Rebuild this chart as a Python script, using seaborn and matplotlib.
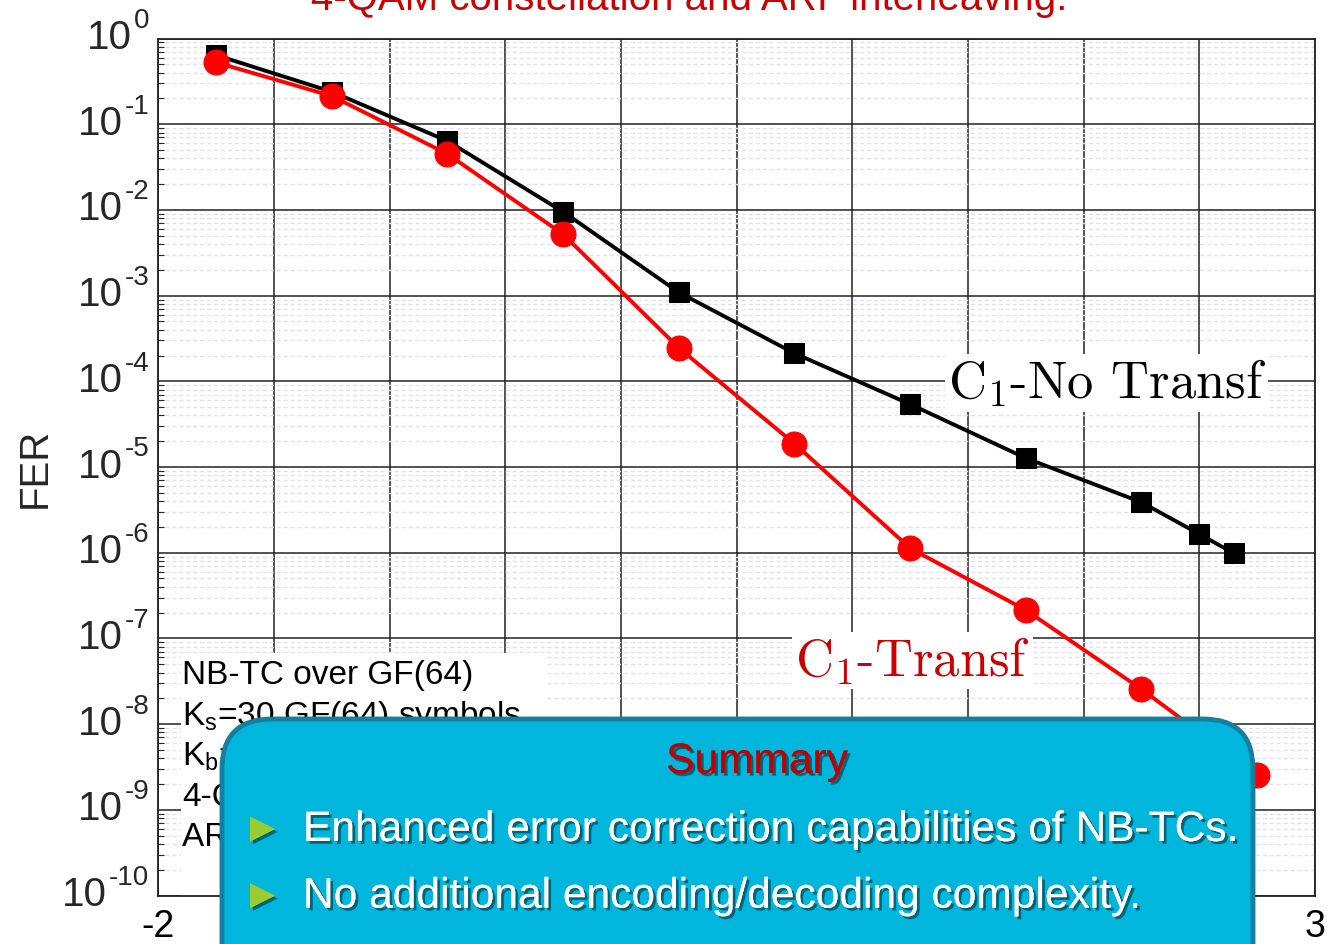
import numpy as np
import pandas as pd
import matplotlib
matplotlib.use("Agg")
import matplotlib.pyplot as plt
import matplotlib.ticker as mticker
import matplotlib.patheffects as pe
import matplotlib.transforms as mtransforms
from matplotlib.patches import FancyBboxPatch, Rectangle
import seaborn as sns

# ---------------- data ----------------
snr_no_transf = [-1.75, -1.25, -0.75, -0.25, 0.25, 0.75, 1.25, 1.75, 2.25, 2.5, 2.65]
fer_no_transf = [0.64, 0.239, 0.0637, 9.5e-3, 1.09e-3, 2.12e-4, 5.4e-5, 1.27e-5, 3.87e-6, 1.65e-6, 9.8e-7]
snr_transf = [-1.75, -1.25, -0.75, -0.25, 0.25, 0.75, 1.25, 1.75, 2.25, 2.75]
fer_transf = [0.527, 0.213, 0.0449, 5.2e-3, 2.45e-4, 1.87e-5, 1.125e-6, 2.14e-7, 2.55e-8, 2.55e-9]
series_labels = ["C$_1$-No Transf", "C$_1$-Transf"]
y_exponents = [0, -1, -2, -3, -4, -5, -6, -7, -8, -9, -10]
x_tick_values = [-2, -1.5, -1, -0.5, 0, 0.5, 1, 1.5, 2, 2.5, 3]
x_tick_labels = ["-2", "", "", "", "", "", "", "", "", "", "3"]
y_label = "FER"
title_text = "4-QAM constellation and ARI  interleaving."
info_lines = ["NB-TC over GF(64)", "K$_\\mathregular{s}$=30 GF(64) symbols",
              "K$_\\mathregular{b}$=180 bits", "4-QAM", "ARI interleaving"]
summary_title = "Summary"
summary_points = ["Enhanced error correction capabilities of NB-TCs.",
                  "No additional encoding/decoding complexity."]

# ---------------- style ----------------
sns.set_theme(style="white")
plt.rcParams["font.family"] = ["Liberation Sans", "DejaVu Sans"]
plt.rcParams["mathtext.fontset"] = "custom"
plt.rcParams["mathtext.rm"] = "Liberation Sans"
plt.rcParams["mathtext.it"] = "Liberation Sans:italic"
plt.rcParams["axes.unicode_minus"] = False

W, H = 1327, 944
fig = plt.figure(figsize=(W / 100, H / 100), dpi=100)
fig.patch.set_facecolor("white")

x0, x1 = 158.3, 1315.0
y0, y1 = 38.5, 895.5
ax = fig.add_axes([x0 / W, 1 - y1 / H, (x1 - x0) / W, (y1 - y0) / H])
ax.set_yscale("log")
ax.set_xlim(-2, 3)
ax.set_ylim(1e-10, 1)
ax.set_axisbelow(True)

sns.lineplot(x=snr_no_transf, y=fer_no_transf, ax=ax, color="black", marker="s",
             markersize=14.5, markeredgecolor="black", linewidth=2.8,
             estimator=None, sort=False, zorder=4)
sns.lineplot(x=snr_transf, y=fer_transf, ax=ax, color="#FF0000", marker="o",
             markersize=18, markeredgecolor="#FF0000", linewidth=2.8,
             estimator=None, sort=False, zorder=5)

# ticks
ax.set_yticks([10.0 ** e for e in y_exponents])
ax.set_yticklabels(["" for e in y_exponents])
ax.yaxis.set_minor_locator(mticker.LogLocator(base=10, subs=np.arange(2, 10), numticks=100))
ax.yaxis.set_minor_formatter(mticker.NullFormatter())
ax.set_xticks(x_tick_values)
ax.set_xticklabels(x_tick_labels)
ax.tick_params(axis="both", which="major", labelsize=27, colors="black",
               direction="out", length=5, width=1, pad=5)
ax.tick_params(axis="y", which="minor", direction="in", length=4, width=0.8, left=True)

ax.grid(True, which="major", color="#222222", linewidth=1.1, linestyle="-")
ax.grid(True, which="minor", axis="y", color="#E0E0F7", linewidth=1.0, linestyle=(0, (3, 2)))
ax.grid(False, which="minor", axis="x")
for sp in ax.spines.values():
    sp.set_color("#222222")
    sp.set_linewidth(1.3)
ax.set_xlabel("")
ax.set_ylabel("")

# y tick labels as "10" with raised exponent
renderer = fig.canvas.get_renderer()
ytrans = ax.get_yaxis_transform()
for e in y_exponents:
    sup = ax.text(0, 10.0 ** e, str(e), fontsize=20,
                  transform=mtransforms.offset_copy(ytrans, fig=fig, x=-9, y=10.5, units="dots"),
                  ha="right", va="baseline", clip_on=False)
    wsup = sup.get_window_extent(renderer=renderer).width
    ax.text(0, 10.0 ** e, "10", fontsize=29,
            transform=mtransforms.offset_copy(ytrans, fig=fig, x=-9 - wsup - 2, y=-10.5, units="dots"),
            ha="right", va="baseline", clip_on=False)

# white info area + text
ax.add_patch(Rectangle(((181 - x0) / (x1 - x0), 0), (547 - 181) / (x1 - x0),
                       (y1 - 653) / (y1 - y0), transform=ax.transAxes,
                       facecolor="white", edgecolor="none", zorder=1))
for i, line in enumerate(info_lines):
    yb = 684 + 40.6 * i
    ax.text((182 - x0) / (x1 - x0), (y1 - yb) / (y1 - y0), line, transform=ax.transAxes,
            fontsize=24, color="black", ha="left", va="baseline", zorder=3)

# series labels
ax.text(2.10, 10 ** -4.02, series_labels[0], fontsize=37.8, color="black",
        family="cmr10", math_fontfamily="cm", ha="center", va="center", zorder=6,
        bbox=dict(boxstyle="square,pad=0.05", facecolor="white", edgecolor="none"))
ax.text(1.26, 10 ** -7.26, series_labels[1], fontsize=37.8, color="#CC0000",
        family="cmr10", math_fontfamily="cm", ha="center", va="center", zorder=6,
        bbox=dict(boxstyle="square,pad=0.05", facecolor="white", edgecolor="none"))

# y label and title
fig.text(35 / W, 1 - 468 / H, y_label, rotation=90, fontsize=29, ha="center", va="center")
fig.text(689 / W, 1 - 9.5 / H, title_text, fontsize=29, color="#CC0000",
         ha="center", va="baseline")

# summary box overlay
ov = fig.add_axes([0, 0, 1, 1], zorder=20)
ov.set_xlim(0, W)
ov.set_ylim(H, 0)
ov.axis("off")
ov.patch.set_alpha(0)
box = FancyBboxPatch((222, 719), 1031, 320, boxstyle="round,pad=0,rounding_size=50",
                     facecolor="#00B6DC", edgecolor="#147F9E", linewidth=3.5)
ov.add_patch(box)
shadow = [pe.withSimplePatchShadow(offset=(2, -2), shadow_rgbFace="black", alpha=0.45), pe.Normal()]
ov.text(757, 773, summary_title, fontsize=30.6, color="#C00000", ha="center",
        va="baseline", path_effects=shadow)
for i, pt in enumerate(summary_points):
    yb = 841 + 66.6 * i
    ov.text(262.5, yb - 11, "\u25BA", fontsize=30, color="#9ACD32", ha="center",
            va="center", path_effects=shadow, family=["Liberation Sans", "DejaVu Sans"])
    ov.text(303, yb, pt, fontsize=30.6, color="white", ha="left", va="baseline",
            path_effects=shadow)

fig.savefig("out.png", dpi=100, facecolor="white")
